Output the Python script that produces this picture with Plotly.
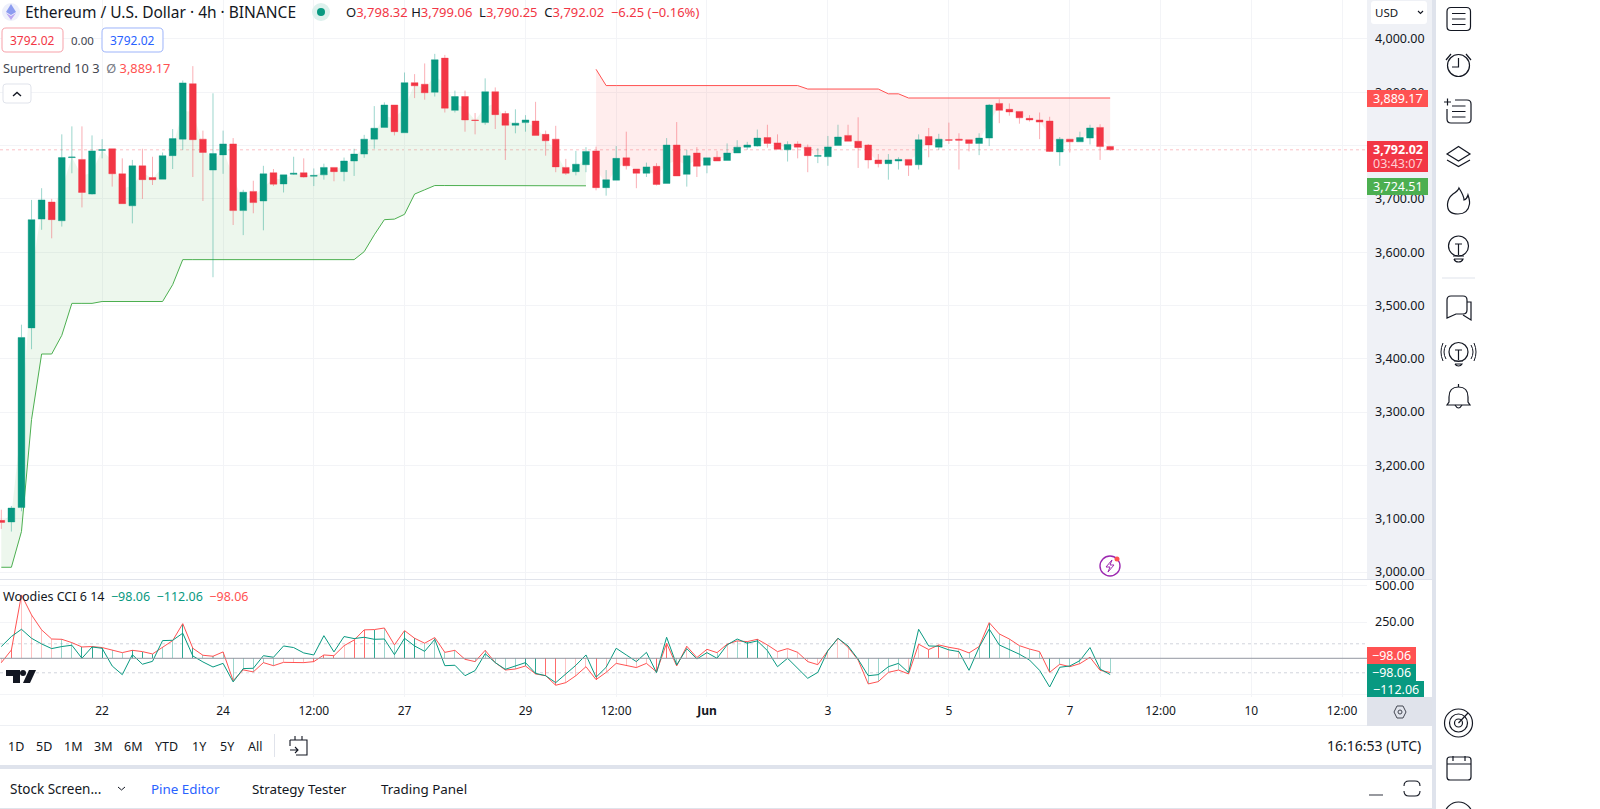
import re
import pandas as pd
import plotly.graph_objects as go

W, H = 1600, 809
FONT = "Noto Sans"
TEAL = "#089981"
RED = "#F23645"
ST_RED = "#FF5252"
ST_GREEN = "#4CAF50"
INK = "#131722"
NB = "\u00a0"

bar_times = pd.date_range("2024-05-20 08:00", periods=111, freq="4h")

open_ = [3097,3094,3121,3458,3662,3694,3659,3777.5,3774,3709,
         3791,3794,3747,3687,3762,3740,3737,3781,3812,3916,
         3812,3754,3782.5,3803,3678,3714,3696,3749,3728,3746,
         3749,3742.5,3745,3759,3751,3771,3784,3812,3834,3876,
         3824,3918,3915,3900,3964,3866,3892,3848,3843,3901,
         3860,3838,3843,3846,3821,3812,3759,3751,3764,3790,
         3721,3735,3777,3756,3748,3761,3729,3801,3746,3786,
         3763,3778,3772,3786,3797,3799,3815,3805,3792,3803,
         3797,3780,3779,3800,3819,3808,3801,3773,3766,3771,
         3774,3764,3817,3797,3811,3812,3811,3804,3814,3879,
         3868,3864,3851,3848,3846,3788,3812,3807,3814,3834,3798.32]
high = [3117,3124,3464,3698,3720,3700,3821,3836,3836,3819,
        3812,3794,3776,3773,3794,3779,3787,3831,3922,3949,
        3828,3898,3828,3814,3717,3734,3762,3756,3745,3779,
        3776,3757,3766,3759,3777.5,3794,3820,3874,3881,3876,
        3937,3934,3954,3972,3970,3903,3903,3861,3926,3909,
        3865,3868,3857,3882,3828,3837,3775,3790,3797,3798,
        3754,3799,3826,3756,3768,3767,3814,3844,3792,3797,
        3777,3790,3804,3810,3807,3830,3839,3821,3808,3808,
        3802,3795,3818,3839,3839,3853,3803,3784,3784,3778,
        3774,3821,3833,3822,3843,3823,3811,3823,3878,3887,
        3879,3864,3857,3862,3854,3816,3812,3826,3839,3840,3799.06]
low = [3081,3076,3114,3418,3642,3626,3648,3748,3684,3708,
       3776,3723,3691,3654,3700,3726,3737,3756,3792,3741,
       3696,3553,3747,3651,3632,3673,3641,3724,3712,3745,
       3740,3724,3736,3733,3733,3743,3777,3794,3834,3819,
       3824,3889,3886,3892,3862,3862,3826,3821,3839,3831,
       3773,3823,3826,3819,3781,3750,3745,3744,3750,3716,
       3706,3735,3755,3720,3741,3725,3729,3743,3723,3741,
       3748,3771,3772,3786,3792,3798,3796,3793,3770,3776,
       3750,3767,3762,3800,3808,3758,3757,3759,3736,3755,
       3743,3755,3778,3792,3803,3755,3789,3782,3799,3842,
       3856,3841,3845,3812,3788,3762,3787,3807,3802,3773,3790.25]
close = [3093,3120,3440,3661,3698,3661,3777.5,3778.5,3712,3790,
         3792,3747,3691,3762,3736,3736,3781,3813,3917.5,3811,
         3787,3785,3803,3678,3712.5,3693,3747,3727.5,3745,3748,
         3741,3744,3759,3751,3771,3784,3812,3832.5,3876,3826,
         3918,3912,3899,3961,3870,3892,3848,3847,3901,3858,
         3838,3842,3848,3819,3809,3760,3748,3765,3789,3721,
         3736,3776,3762,3748,3760,3727,3801,3743,3781,3761,
         3777,3771,3786,3797,3801,3814,3804,3793,3802,3797,
         3781,3781,3797.5,3816,3808,3796,3773,3766,3773,3774,
         3763,3811,3801,3812,3810,3810,3804,3814,3876,3866,
         3863,3852,3848,3844,3789,3812,3807,3815,3833,3798,3792.02]

supertrend_up = [3009,3009,3076,3286,3409,3409,3444,3504,3504,3504,
                 3507.5,3507.5,3507.5,3507.5,3507.5,3507.5,3507.5,3539,3586,3586,
                 3586,3586,3586,3586,3586,3586,3586,3586,3586,3586,
                 3586,3586,3586,3586,3586,3586,3601,3632.5,3661,3662,
                 3671,3709,3717,3725,3725,3725,3725,3725,3725,3725,
                 3725,3725,3725,3725,3725,3725,3725,3725,3724.51]
supertrend_down = [3943,3912.5,3912.5,3912.5,3912.5,3912.5,3912.5,3912.5,3912.5,3912.5,3912.5,
                   3912.5,3912.5,3912.5,3912.5,3912.5,3912.5,3912.5,3912.5,3912.5,3912.5,
                   3906,3906,3906,3906,3906,3906,3906,3906,3897,3897,
                   3889.17,3889.17,3889.17,3889.17,3889.17,3889.17,3889.17,3889.17,3889.17,3889.17,
                   3889.17,3889.17,3889.17,3889.17,3889.17,3889.17,3889.17,3889.17,3889.17,3889.17,3889.17]

cci_slow = [-30,57,437,299,196,133,131,108,78,81,
            74,55,39,55,46,30,76,122,239,69,
            21,14,44,-154,-80,-94,-30,-51,-28,-28,
            -30,-23,23,18,87,126,196,198,209,92,
            191,138,104,143,41,55,-7,-23,55,-30,
            -81,-74,-53,-108,-120,-186,-168,-120,-58,-147,
            -97,-35,-48,-64,-35,-94,104,-53,83,5,
            62,39,97,120,115,131,92,46,67,41,
            -23,-44,53,138,76,-12,-177,-161,-97,-81,
            -108,97,60,92,76,64,37,81,246,168,
            133,87,64,46,-97,-41,-58,-37,7,-83,-98.06]
cci_fast = [81,150,200,138,99,67,81,90,0,78,
            69,-53,-113,25,-41,-21,122,124,173,16,
            -25,-60,-35,-163,-71,-69,18,7,85,74,
            37,23,156,44,150,136,145,131,133,25,
            138,85,48,131,-51,-48,-120,-85,32,-30,
            -76,-53,-30,-104,-120,-168,-108,-48,23,-131,
            -62,69,23,-23,41,-99,145,-46,67,-5,
            39,0,92,133,104,120,53,-58,0,-69,
            -138,-97,53,138,85,-7,-120,-113,-58,-35,
            -99,200,85,83,58,46,-83,76,202,92,
            62,28,-12,-83,-198,-62,-53,-16,74,-74,-112.06]
hist_shade = list("rRrrrrttTT" "TttTTTttTT" "ttttttttrr" "rRRRrRRTtt" "TTtttttttt"
                  "ttTTRRrrrR" "rrrrrRRtrr" "rtrtTTtrrr" "rrrrrttttt" "rrRRrrttTt" "ttttTtttttt")

price_ticks = [3000,3100,3200,3300,3400,3500,3600,3700,3800,3900,4000]
cci_ticks = [500,250,0,-250]
cci_tick_text = ["500.00","250.00","",""]
time_ticks = ["2024-05-22","2024-05-24","2024-05-25 12:00","2024-05-27","2024-05-29",
              "2024-05-30 12:00","2024-06-01","2024-06-03","2024-06-05","2024-06-07",
              "2024-06-08 12:00","2024-06-10","2024-06-11 12:00"]
time_labels = ["22","24","12:00","27","29","12:00","<b>Jun</b>","3","5","7","12:00","10","12:00"]
range_buttons = ["1D","5D","1M","3M","6M","YTD","1Y","5Y","All"]

for series in (open_, high, low, close, cci_slow, cci_fast, hist_shade):
    assert len(series) == 111, len(series)
assert len(supertrend_up) == 59 and len(supertrend_down) == 52

body_mid = [(a + b) / 2 for a, b in zip(open_, close)]
shade_colors = {"T": "rgba(8,153,129,0.85)", "t": "rgba(8,153,129,0.4)",
                "R": "rgba(255,82,82,0.85)", "r": "rgba(255,82,82,0.35)"}

fig = go.Figure()
up_x, down_x = bar_times[:59], bar_times[59:]
fig.add_trace(go.Scatter(x=up_x, y=body_mid[:59], mode="lines", line=dict(width=0), hoverinfo="skip"))
fig.add_trace(go.Scatter(x=up_x, y=supertrend_up, mode="lines", line=dict(color=ST_GREEN, width=1),
                         fill="tonexty", fillcolor="rgba(76,175,80,0.1)", hoverinfo="skip"))
fig.add_trace(go.Scatter(x=down_x, y=body_mid[59:], mode="lines", line=dict(width=0), hoverinfo="skip"))
fig.add_trace(go.Scatter(x=down_x, y=supertrend_down, mode="lines", line=dict(color=ST_RED, width=1),
                         fill="tonexty", fillcolor="rgba(255,82,82,0.1)", hoverinfo="skip"))
fig.add_trace(go.Candlestick(
    x=bar_times, open=open_, high=high, low=low, close=close, yaxis="y3", whiskerwidth=0,
    increasing=dict(line=dict(color="rgba(8,153,129,0.4)", width=1), fillcolor=TEAL),
    decreasing=dict(line=dict(color="rgba(242,54,69,0.4)", width=1), fillcolor=RED),
    hoverinfo="skip"))
fig.add_trace(go.Bar(x=bar_times, y=cci_slow, xaxis="x2", yaxis="y2", width=1.45e6,
                     marker=dict(color=[shade_colors[k] for k in hist_shade], line=dict(width=0)),
                     hoverinfo="skip"))
fig.add_trace(go.Scatter(x=bar_times, y=cci_slow, xaxis="x2", yaxis="y2", mode="lines",
                         line=dict(color=ST_RED, width=1), hoverinfo="skip"))
fig.add_trace(go.Scatter(x=bar_times, y=cci_fast, xaxis="x2", yaxis="y2", mode="lines",
                         line=dict(color=TEAL, width=1), hoverinfo="skip"))

shapes, notes = [], []


def px(x):
    return x / W


def py(y):
    return 1 - y / H


def rrect_path(x0, y0, x1, y1, r):
    return (f"M{x0+r} {y0} L{x1-r} {y0} Q{x1} {y0} {x1} {y0+r} L{x1} {y1-r} Q{x1} {y1} {x1-r} {y1} "
            f"L{x0+r} {y1} Q{x0} {y1} {x0} {y1-r} L{x0} {y0+r} Q{x0} {y0} {x0+r} {y0} Z")


def path(d, color=INK, width=1.2, fill=None, layer="above"):
    count = [0]

    def conv(m):
        v = float(m.group(0))
        count[0] += 1
        return f"{px(v):.5f}" if count[0] % 2 == 1 else f"{py(v):.5f}"

    shapes.append(dict(type="path", xref="paper", yref="paper", layer=layer,
                       path=re.sub(r"-?\d+\.?\d*", conv, d).replace("M", "M ").replace("L", " L ").replace("Q", " Q ").replace("C", " C "),
                       line=dict(color=color, width=width), fillcolor=fill or "rgba(0,0,0,0)"))


def rect(x0, y0, x1, y1, fill, layer="below"):
    shapes.append(dict(type="rect", xref="paper", yref="paper", layer=layer, x0=px(x0), x1=px(x1),
                       y0=py(y0), y1=py(y1), fillcolor=fill, line=dict(width=0)))


def circle(cx, cy, r, color=INK, width=1.2, fill="rgba(0,0,0,0)"):
    shapes.append(dict(type="circle", xref="paper", yref="paper", layer="above", x0=px(cx - r), x1=px(cx + r),
                       y0=py(cy - r), y1=py(cy + r), line=dict(color=color, width=width), fillcolor=fill))


def text(x, y, s, size=13, color=INK, anchor="left"):
    notes.append(dict(xref="paper", yref="paper", x=px(x), y=py(y), text=s, showarrow=False, xanchor=anchor,
                      yanchor="middle", font=dict(family=FONT, size=size, color=color), borderpad=0, borderwidth=0))


def span(s, color):
    return f'<span style="color:{color}">{s}</span>'


# ---- panel backgrounds and separators
rect(1367, 0, 1432, 579, "#EFF1F6")
rect(1367, 697, 1432, 726, "#E0E3EB")
rect(1432, 0, 1436, 809, "#DFE3EC")
rect(0, 765, 1436, 769, "#DFE3EC")
rect(0, 725, 1367, 726, "#EEF0F4")
rect(0, 579, 1432, 580, "#E0E3EB")
rect(0, 808, 1432, 809, "#E0E3EB")

# ---- indicator guide lines drawn against the data axes
last_close = close[-1]
shapes.append(dict(type="line", xref="paper", yref="y", x0=0, x1=px(1367), y0=last_close, y1=last_close,
                   line=dict(color="rgba(242,54,69,0.3)", width=1, dash="dot"), layer="below"))
shapes.append(dict(type="line", xref="paper", yref="y2", x0=0, x1=px(1367), y0=0, y1=0,
                   line=dict(color="#9598A1", width=1), layer="above"))
for level in (100, -100):
    shapes.append(dict(type="line", xref="paper", yref="y2", x0=0, x1=px(1367), y0=level, y1=level,
                       line=dict(color="#D1D4DC", width=1, dash="dot"), layer="below"))

# ---- header
circle(11, 12, 9, color="rgba(0,0,0,0)", fill="#EEF0FB")
path("M11 4 L16 12 L11 15 L6 12 Z", color="rgba(0,0,0,0)", width=0, fill="#8C9CF0")
path("M6 13 L11 16 L16 13 L11 20 Z", color="rgba(0,0,0,0)", width=0, fill="#B9A6F2")
text(25, 12, "Ethereum / U.S. Dollar · 4h · BINANCE", 15.5)
circle(321, 12, 9, color="rgba(0,0,0,0)", fill="#DDF1ED")
circle(321, 12, 4, color="rgba(0,0,0,0)", fill=TEAL)
text(346, 12, "O" + span("3,798.32", RED) + NB + "H" + span("3,799.06", RED) + NB + NB + "L" + span("3,790.25", RED)
     + NB + NB + "C" + span("3,792.02", RED) + NB + NB + span("−6.25" + NB + "(−0.16%)", RED), 13)
path(rrect_path(2, 28, 63, 52, 4), color="#F7A1A9", width=1, fill="#FFFFFF")
text(32.5, 40, "3792.02", 12, RED, "center")
text(82, 40, "0.00", 11.5, "#434651", "center")
path(rrect_path(102, 28, 163, 52, 4), color="#9DB4FA", width=1, fill="#FFFFFF")
text(132.5, 40, "3792.02", 12, "#2962FF", "center")
text(3, 68.5, span("Supertrend 10 3", "#434651") + NB + NB + span("Ø", "#787B86") + NB + span("3,889.17", ST_RED), 12.8)
path(rrect_path(3, 84, 31, 103, 3), color="#E0E3EB", width=1, fill="#FFFFFF")
path("M13 96 L17 92.5 L21 96", width=1.4)
text(3, 596, "Woodies CCI 6 14" + NB + NB + span("−98.06", TEAL) + NB + NB + span("−112.06", TEAL) + NB + NB + span("−98.06", ST_RED), 12.5)

# ---- TradingView mark
path("M6 670 L20 670 L20 683 L13 683 L13 676 L6 676 Z", color="rgba(0,0,0,0)", width=0, fill=INK)
circle(23, 673, 3, color="rgba(0,0,0,0)", fill=INK)
path("M29 670 L36 670 L30 683 L23 683 Z", color="rgba(0,0,0,0)", width=0, fill=INK)

# ---- flash icon
circle(1110, 566, 10, color="#9C27B0", width=1.4)
path("M1112 560 L1106 567 L1110 567 L1108 572 L1114 565 L1110 565 Z", color="#9C27B0", width=1)
circle(1117, 559, 2.5, color="rgba(0,0,0,0)", fill=ST_RED)

# ---- price-axis tags
path(rrect_path(1371, 1, 1427, 24, 3), color="rgba(0,0,0,0)", width=0, fill="#FFFFFF")
text(1375, 12, "USD", 11.5)
path("M1418 11 L1420.5 13.5 L1423 11", width=1.1)
rect(1367, 90, 1428, 107, ST_RED, "above")
text(1397.5, 98.5, "3,889.17", 12.5, "#FFFFFF", "center")
rect(1367, 141, 1428, 172, RED, "above")
text(1397.5, 149.5, "<b>3,792.02</b>", 12.5, "#FFFFFF", "center")
text(1397.5, 163.5, "03:43:07", 12.5, "#FFD0D4", "center")
rect(1367, 178, 1428, 195, ST_GREEN, "above")
text(1397.5, 186.5, "3,724.51", 12.5, "#FFFFFF", "center")
rect(1367, 647, 1416, 664, ST_RED, "above")
text(1391.5, 655.5, "−98.06", 12.5, "#FFFFFF", "center")
rect(1367, 664, 1416, 681, TEAL, "above")
text(1391.5, 672.5, "−98.06", 12.5, "#FFFFFF", "center")
rect(1367, 681, 1424, 697, TEAL, "above")
text(1395.5, 689.5, "−112.06", 12.5, "#FFFFFF", "center")
path("M1394 712 L1397 706 L1403 706 L1406 712 L1403 718 L1397 718 Z", color="#434651", width=1)
circle(1400, 712, 2, color="#434651", width=1)

# ---- bottom toolbars
for label, cx in zip(range_buttons, [16, 44, 73, 103, 133, 166, 199, 227, 255]):
    text(cx, 746, label, 12.5, INK, "center")
rect(274, 734, 275, 757, "#E0E3EB")
path("M290 740 L307 740 L307 755 L296 755 M290 746 L290 740 M295 736 L295 740 M302 736 L302 740 M290 750 L298 750 M295 747 L298 750 L295 753", width=1.1)
text(1421, 745, "16:16:53 (UTC)", 14, INK, "right")
text(10, 789, "Stock Screen...", 13.5, INK)
path("M118 787 L121.5 790 L125 787", width=1)
text(151, 789, "Pine Editor", 13.4, "#2962FF")
text(252, 789, "Strategy Tester", 13.4, INK)
text(381, 789, "Trading Panel", 13.4, INK)
path("M1369 795 L1383 795", width=1.1, color="#434651")
path("M1404 786 Q1404 781 1409 781 L1415 781 M1404 791 Q1404 796 1409 796 L1415 796 M1420 786 Q1420 781 1415 781 M1420 791 Q1420 796 1415 796",
     width=1.1, color="#131722")

# ---- right sidebar icons
path(rrect_path(1447, 7.5, 1470.5, 30.5, 4))
path("M1452 13.5 L1465.5 13.5 M1452 19 L1465.5 19 M1452 24.5 L1465.5 24.5")
circle(1458.5, 65.5, 11)
path("M1458.5 58 L1458.5 67 L1452 67 M1446 60 L1451 54 M1466 54 L1471 60")
path("M1447 109 L1447 119 Q1447 123 1451 123 L1467 123 Q1471 123 1471 119 L1471 104 Q1471 100 1467 100 L1455 100 M1444 102 L1451 102 M1447.5 98.5 L1447.5 105.5")
path("M1452 106 L1465.5 106 M1452 111.5 L1465.5 111.5 M1452 117 L1465.5 117")
path("M1447 154 L1458.5 146.5 L1470 154 L1458.5 161 Z")
path("M1447 160 L1458.5 166.5 L1470 160")
path("M1459 188 Q1464 196 1464 200 Q1467 199 1468 195 Q1470 201 1469.5 204 Q1468 214 1458 214 Q1447 214 1447.5 204 Q1448 198 1453 194 Q1458 191 1459 188 Z")
circle(1458.5, 246, 10)
path("M1455 244 L1462 244 M1458.5 244 L1458.5 255 M1453 256 L1464 256 M1454 259 L1463 259 Q1462 262 1458.5 262 Q1455 262 1454 259")
rect(1442, 277.5, 1475, 278.5, "#E0E3EB")
path("M1447 300 Q1447 296 1451 296 L1463 296 Q1467 296 1467 300 L1467 310 Q1467 314 1463 314 L1456 314 L1447 318 Z")
path("M1467 302 L1471 302 Q1471 302 1471 306 L1471 320 L1463 315")
circle(1458.5, 352, 9.5)
path("M1455 350 L1462 350 M1458.5 350 L1458.5 360 M1454 361 L1463 361 M1455 364 L1462 364 Q1461 366 1458.5 366 Q1456 366 1455 364")
path("M1446 345 Q1442 352 1446 359 M1443 343 Q1439 352 1443 361 M1471 345 Q1475 352 1471 359 M1474 343 Q1478 352 1474 361", width=1)
path("M1449 402 L1449 397 Q1449 387 1458.5 387 Q1468 387 1468 397 L1468 402 L1470 405 L1447 405 Z")
path("M1455 405 Q1458.5 411 1462 405 M1458.5 384 L1458.5 387")
circle(1458.5, 723, 14)
circle(1458.5, 723, 9)
circle(1458.5, 723, 4)
path("M1458.5 723 L1468 713")
path(rrect_path(1447, 757, 1471, 780, 3))
path("M1447 764 L1471 764 M1453 756 L1453 761 M1465 756 L1465 761")
circle(1458.5, 816, 14)

axis_font = dict(family=FONT, size=12, color=INK)
grid = "#F3F4F7"
x_range = ["2024-05-20 07:29", "2024-06-11 21:55"]
price_range = [2987, 4073]
fig.update_layout(
    width=W, height=H, margin=dict(l=0, r=0, t=0, b=0, pad=0), autosize=False,
    paper_bgcolor="#FFFFFF", plot_bgcolor="rgba(0,0,0,0)", showlegend=False, bargap=0, boxgap=0.33, boxgroupgap=0,
    hovermode=False, font=dict(family=FONT, color=INK),
    xaxis=dict(domain=[0, px(1367)], range=x_range, anchor="y", rangeslider=dict(visible=False), automargin=False,
               tickvals=time_ticks, ticktext=[""] * len(time_ticks), showgrid=True, gridcolor=grid, gridwidth=1,
               zeroline=False, showline=False, ticks=""),
    xaxis2=dict(domain=[0, px(1367)], range=x_range, anchor="y2", tickvals=time_ticks, ticktext=time_labels,
                automargin=False, showgrid=True, gridcolor=grid, gridwidth=1, zeroline=False, showline=False, ticks="",
                tickangle=0, tickfont=axis_font, ticklabelstandoff=5),
    yaxis=dict(domain=[py(579), 1], range=price_range, side="right", anchor="x", tickvals=price_ticks,
               automargin=False, tickformat=",.2f", showgrid=True, gridcolor=grid, gridwidth=1, zeroline=False,
               showline=False, ticks="", tickfont=dict(family=FONT, size=12.5, color="#131722"), ticklabelstandoff=7),
    yaxis2=dict(domain=[py(697), py(580)], range=[-267, 540], side="right", anchor="x2", tickvals=cci_ticks,
                automargin=False, ticktext=cci_tick_text, showgrid=True, gridcolor=grid, gridwidth=1, zeroline=False,
                showline=False, ticks="", tickfont=dict(family=FONT, size=12.5, color="#131722"), ticklabelstandoff=7),
    yaxis3=dict(range=price_range, overlaying="y", side="right", anchor="x", visible=False, automargin=False),
    shapes=shapes, annotations=notes,
)

fig.write_html("out.html", config=dict(displayModeBar=False),
               post_script="document.body.style.margin='0';document.body.style.overflow='hidden';")
